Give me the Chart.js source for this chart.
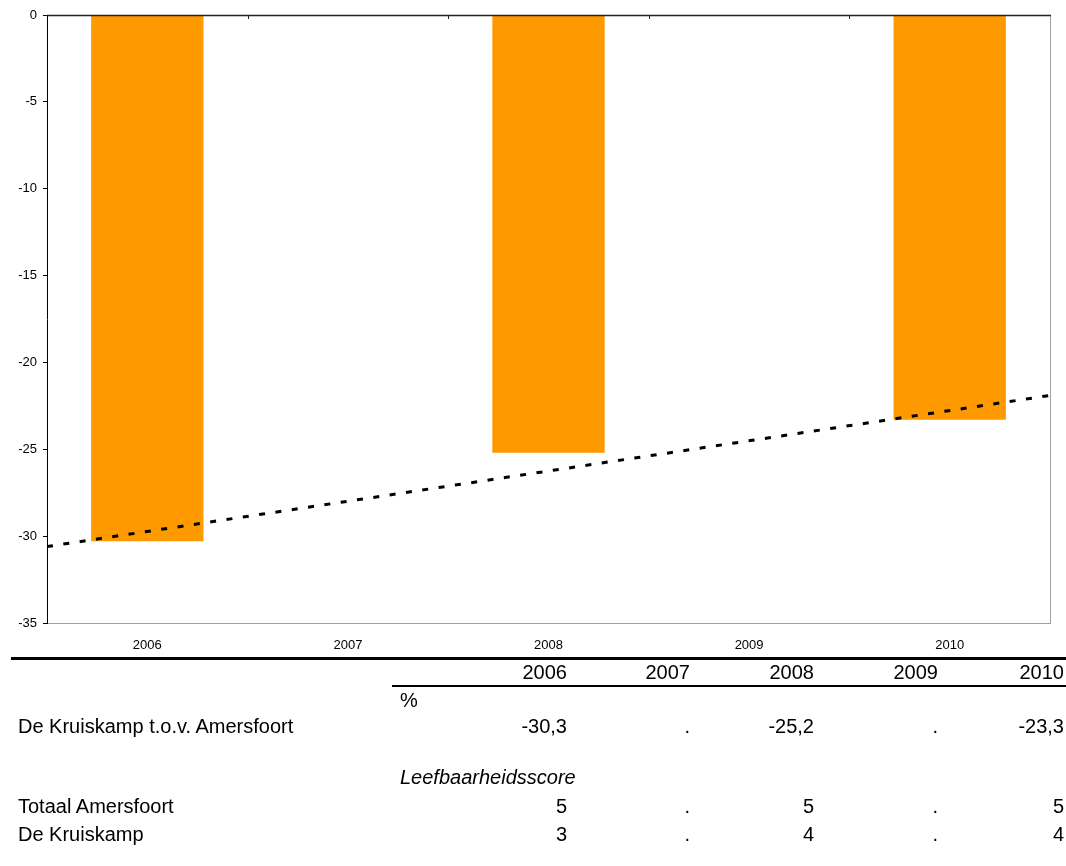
<!DOCTYPE html>
<html>
<head>
<meta charset="utf-8">
<script src="https://cdn.jsdelivr.net/npm/chart.js@4/dist/chart.umd.min.js"></script>
<style>
  body { margin: 0; background: #fff; font-family: "Liberation Sans", Arial, sans-serif; }
  #wrap { position: absolute; left: 0; top: 0; width: 1066px; height: 655px; }
  #tbl { position: absolute; left: 0; top: 0; width: 1066px; height: 866px; font-size: 20px; color: #000; }
  .t { position: absolute; white-space: nowrap; line-height: 22px; }
  .line { position: absolute; background: #000; }
</style>
</head>
<body>
<div id="wrap"><canvas id="chart"></canvas></div>
<div id="tbl"></div>
<script>
const years = ['2006', '2007', '2008', '2009', '2010'];
const kruiskampTov = [-30.3, null, -25.2, null, -23.3];
const trendYears = [2005.5, 2010.5];
const trendValues = [-30.6, -21.9];
const totaalAmersfoort = [5, null, 5, null, 5];
const deKruiskamp = [3, null, 4, null, 4];
const yTicks = [0, -5, -10, -15, -20, -25, -30, -35];

// kader: grijze rand rechts, zwarte as op 0 bovenaan met streepjes
const framePlugin = {
    id: 'frame',
    afterDraw(chart) {
        const ctx = chart.ctx;
        const a = chart.chartArea;
        const x = chart.scales.x;
        const y0 = chart.scales.y.getPixelForValue(0);
        ctx.save();
        ctx.strokeStyle = '#a0a0a0';
        ctx.lineWidth = 1;
        ctx.beginPath();
        ctx.moveTo(a.right + 0.5, a.top);
        ctx.lineTo(a.right + 0.5, a.bottom + 0.5);
        ctx.stroke();
        ctx.strokeStyle = '#222';
        ctx.lineWidth = 1.5;
        ctx.beginPath();
        ctx.moveTo(a.left, y0 + 0.5);
        ctx.lineTo(a.right + 1, y0 + 0.5);
        ctx.stroke();
        ctx.lineWidth = 1;
        ctx.beginPath();
        for (let i = 0; i < years.length - 1; i++) {
            const bx = Math.round((x.getPixelForValue(i) + x.getPixelForValue(i + 1)) / 2) + 0.5;
            ctx.moveTo(bx, y0);
            ctx.lineTo(bx, y0 + 4);
        }
        ctx.stroke();
        ctx.restore();
    }
};

new Chart(document.getElementById('chart'), {
    type: 'bar',
    data: {
        labels: years,
        datasets: [{
            label: 'De Kruiskamp t.o.v. Amersfoort',
            data: kruiskampTov,
            backgroundColor: '#ff9900',
            borderWidth: 0,
            barPercentage: 0.56,
            categoryPercentage: 1,
            grouped: false,
            order: 1
        }, {
            type: 'line',
            label: 'trend',
            data: trendYears.map((yr, i) => ({ x: yr, y: trendValues[i] })),
            xAxisID: 'xt',
            borderColor: '#000',
            borderWidth: 3,
            borderDash: [6, 10.5],
            pointRadius: 0,
            fill: false,
            order: 0
        }]
    },
    options: {
        responsive: true,
        maintainAspectRatio: false,
        animation: false,
        layout: { padding: { top: 15, right: 16, left: 0, bottom: 0 } },
        plugins: { legend: { display: false }, tooltip: { enabled: false } },
        scales: {
            x: {
                grid: { display: false },
                border: { color: '#a0a0a0' },
                ticks: { color: '#000', padding: 7, font: { family: 'Liberation Sans', size: 13 } },
                afterFit: s => { s.height = 32; }
            },
            xt: { type: 'linear', display: false, offset: false, min: 2005.5, max: 2010.5 },
            y: {
                min: -35, max: 0,
                afterBuildTicks: s => { s.ticks = yTicks.map(v => ({ value: v })); },
                grid: { drawOnChartArea: false, tickLength: 4, color: '#000' },
                border: { color: '#000' },
                ticks: { color: '#000', padding: 6, font: { family: 'Liberation Sans', size: 13 } },
                afterFit: s => { s.width = 47; }
            }
        }
    },
    plugins: [framePlugin]
});

// tabel onder de grafiek
const tbl = document.getElementById('tbl');
const colRight = [567, 690, 814, 938, 1064];
function txt(s, pos, cy, right, italic) {
    const d = document.createElement('div');
    d.className = 't';
    d.textContent = s;
    d.style.top = (cy - 11) + 'px';
    if (right) d.style.right = (1066 - pos) + 'px'; else d.style.left = pos + 'px';
    if (italic) d.style.fontStyle = 'italic';
    tbl.appendChild(d);
}
function line(l, t, w, h) {
    const d = document.createElement('div');
    d.className = 'line';
    Object.assign(d.style, { left: l + 'px', top: t + 'px', width: w + 'px', height: h + 'px' });
    tbl.appendChild(d);
}
const fmt = v => v === null ? '.' : String(v).replace('.', ',');
line(11, 657, 1055, 3);
line(392, 685, 674, 2);
years.forEach((yr, i) => txt(yr, colRight[i], 672, true));
txt('%', 400, 700);
txt('De Kruiskamp t.o.v. Amersfoort', 18, 726);
kruiskampTov.forEach((v, i) => txt(fmt(v), colRight[i], 726, true));
txt('Leefbaarheidsscore', 400, 777, false, true);
txt('Totaal Amersfoort', 18, 806);
totaalAmersfoort.forEach((v, i) => txt(fmt(v), colRight[i], 806, true));
txt('De Kruiskamp', 18, 834);
deKruiskamp.forEach((v, i) => txt(fmt(v), colRight[i], 834, true));
</script>
</body>
</html>
